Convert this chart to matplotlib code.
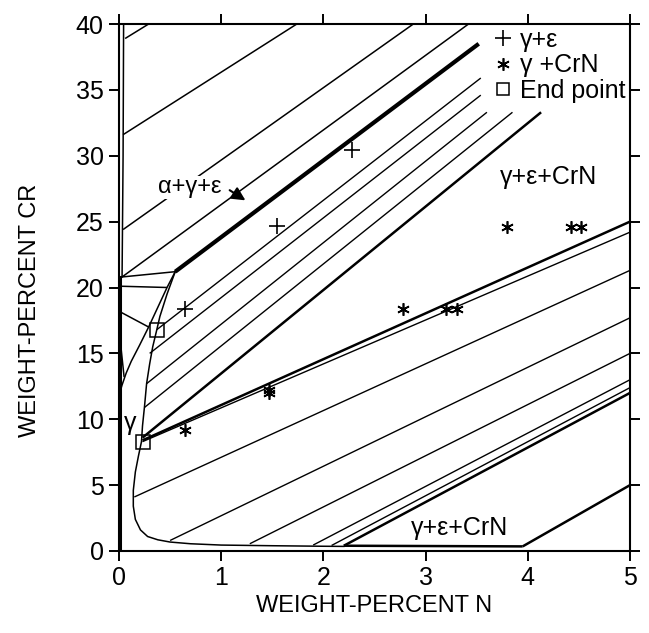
import matplotlib
matplotlib.use("Agg")
import matplotlib.pyplot as plt
from matplotlib.lines import Line2D

plt.rcParams['font.family'] = ['Liberation Sans', 'DejaVu Sans']

# ---------------- data (weight-% N, weight-% Cr) ----------------
gamma_boundary_n = [0.55, 0.47, 0.40, 0.37, 0.33, 0.30, 0.27, 0.25, 0.23, 0.22, 0.19, 0.16,
                    0.14, 0.14, 0.16, 0.21, 0.28, 0.38, 0.50, 0.70, 1.00, 1.50, 2.00, 2.20]
gamma_boundary_cr = [21.2, 19.5, 17.8, 16.8, 15.5, 14.2, 12.7, 11.0, 9.5, 8.3, 7.2, 6.0,
                     4.6, 3.4, 2.4, 1.6, 1.1, 0.85, 0.68, 0.55, 0.45, 0.40, 0.36, 0.35]

alpha_gamma_curve_n = [0.55, 0.47, 0.38, 0.29, 0.20, 0.12, 0.07, 0.03, 0.00]
alpha_gamma_curve_cr = [21.2, 20.0, 18.5, 17.0, 15.6, 14.4, 13.5, 12.6, 11.8]

alpha_boundary_n = [0.03, 0.04, 0.045]
alpha_boundary_cr = [20.8, 30.0, 40.0]

left_edge_n = [0.01, 0.01]
left_edge_cr = [0.0, 20.8]

# tie lines: (n0, cr0, n1, cr1)
alpha_eps_ties = [(0.06, 38.9, 0.29, 40.0), (0.04, 31.6, 1.74, 40.0),
                  (0.04, 24.4, 2.88, 40.0), (0.03, 20.8, 3.42, 40.0)]
alpha_gamma_ties = [(0.00, 20.1, 0.47, 20.0), (0.00, 18.2, 0.29, 17.0),
                    (0.03, 20.8, 0.55, 21.2), (0.02, 15.4, 0.05, 13.2)]
gamma_eps_ties = [(0.37, 16.8, 3.54, 35.9), (0.30, 15.0, 3.54, 34.6),
                  (0.27, 12.7, 3.60, 33.3), (0.25, 10.9, 3.85, 33.3)]
gamma_eps_edge_upper = [(0.55, 21.2, 3.52, 38.5)]
gamma_eps_edge_lower = [(0.23, 8.6, 4.13, 33.3)]
gamma_crn_edges = [(0.23, 8.4, 5.0, 25.0), (2.20, 0.40, 5.0, 12.0),
                   (2.20, 0.40, 3.95, 0.35), (3.95, 0.35, 5.0, 5.0)]
gamma_crn_ties = [(0.23, 8.3, 5.0, 24.2), (0.15, 4.1, 5.0, 21.3), (0.50, 0.8, 5.0, 17.7),
                  (1.28, 0.55, 5.0, 15.0), (1.90, 0.45, 5.0, 13.0), (2.08, 0.42, 5.0, 12.4)]

plus_n = [0.65, 1.55, 2.28]
plus_cr = [18.4, 24.7, 30.4]
star_n = [0.65, 1.47, 1.47, 2.78, 3.20, 3.31, 3.80, 4.42, 4.52]
star_cr = [9.2, 12.2, 12.0, 18.4, 18.4, 18.4, 24.6, 24.6, 24.6]
end_n = [0.37, 0.23]
end_cr = [16.8, 8.3]

x_ticks = [0, 1, 2, 3, 4, 5]
y_ticks = [0, 5, 10, 15, 20, 25, 30, 35, 40]

# ---------------- figure ----------------
fig = plt.figure(figsize=(6.49, 6.33), dpi=100)
ax = fig.add_axes([119 / 649, 1 - 551 / 633, 511 / 649, 527 / 633])
ax.set_xlim(0, 5)
ax.set_ylim(0, 40)

def draw_ties(ties, lw):
    for n0, c0, n1, c1 in ties:
        ax.plot([n0, n1], [c0, c1], color='black', lw=lw, solid_capstyle='butt', clip_on=False)

ax.plot(gamma_boundary_n, gamma_boundary_cr, color='black', lw=1.1)
ax.plot(alpha_gamma_curve_n, alpha_gamma_curve_cr, color='black', lw=1.1)
ax.plot(alpha_boundary_n, alpha_boundary_cr, color='black', lw=1.1)
ax.plot(left_edge_n, left_edge_cr, color='black', lw=2.2)

draw_ties(alpha_eps_ties, 1.1)
draw_ties(alpha_gamma_ties, 1.1)
draw_ties(gamma_eps_ties, 1.0)
draw_ties(gamma_eps_edge_upper, 3.0)
draw_ties(gamma_eps_edge_lower, 1.8)
draw_ties(gamma_crn_edges, 1.8)
draw_ties(gamma_crn_ties, 1.0)

star_marker = (6, 2, 0)
ax.plot(plus_n, plus_cr, linestyle='none', marker='+', ms=11, mew=1.2, color='black')
ax.plot(star_n, star_cr, linestyle='none', marker=star_marker, ms=9, mew=1.2, color='black')
ax.plot(end_n, end_cr, linestyle='none', marker='s', ms=10, mew=1.1,
        markerfacecolor='none', markeredgecolor='black')

# labels inside the diagram
ax.text(0.38, 27.6, 'α+γ+ε', fontsize=17, ha='left', va='center',
        bbox=dict(facecolor='white', edgecolor='none', pad=0.5))
ax.annotate('', xy=(1.26, 26.5), xytext=(1.06, 27.5),
            arrowprops=dict(arrowstyle='-|>', color='black', lw=1.5, mutation_scale=20))
ax.text(3.73, 28.4, 'γ+ε+CrN', fontsize=18, ha='left', va='center')
ax.text(2.86, 1.75, 'γ+ε+CrN', fontsize=18, ha='left', va='center')
ax.text(0.05, 9.7, 'γ', fontsize=18, ha='left', va='center')

# legend
handles = [Line2D([], [], linestyle='none', marker='+', ms=11, mew=1.2, color='black'),
           Line2D([], [], linestyle='none', marker=star_marker, ms=9, mew=1.2, color='black'),
           Line2D([], [], linestyle='none', marker='s', ms=9, mew=1.1,
                  markerfacecolor='none', markeredgecolor='black')]
ax.legend(handles, ['γ+ε', 'γ +CrN', 'End point'], loc='upper left',
          bbox_to_anchor=(0.735, 0.992), frameon=False, fontsize=18,
          handlelength=0.7, handletextpad=0.3, labelspacing=0.05,
          borderpad=0, borderaxespad=0)

# axes styling
ax.set_xticks(x_ticks)
ax.set_yticks(y_ticks)
ax.set_xticklabels([str(v) for v in x_ticks])
ax.set_yticklabels([str(v) for v in y_ticks])
ax.tick_params(direction='out', length=7, width=1.4, labelsize=18, pad=4,
               top=True, right=True, labeltop=False, labelright=False)
for s in ax.spines.values():
    s.set_linewidth(1.5)

fig.text(374 / 649, 1 - 606 / 633, 'WEIGHT-PERCENT N', fontsize=17, ha='center', va='center')
fig.text(30 / 649, 1 - 310 / 633, 'WEIGHT-PERCENT CR', fontsize=17, ha='center', va='center',
         rotation=90)

fig.savefig('out.png', dpi=100)
